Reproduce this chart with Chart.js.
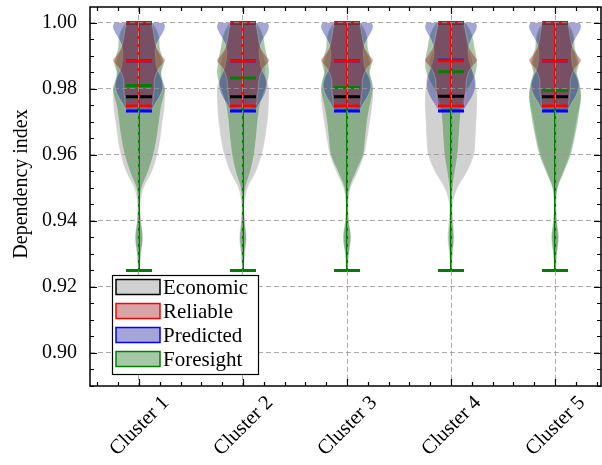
<!DOCTYPE html>
<html>
<head>
<meta charset="utf-8">
<script src="https://cdn.jsdelivr.net/npm/chart.js@4.4.1/dist/chart.umd.min.js"></script>
<style>
  html, body { margin: 0; padding: 0; background: #fff; }
</style>
</head>
<body>
<canvas id="chart" width="602" height="465"></canvas>
<script>
// categories and series
const clusterLabels = ['Cluster 1', 'Cluster 2', 'Cluster 3', 'Cluster 4', 'Cluster 5'];
const clusterPos = [1, 2, 3, 4, 5];
const seriesNames = ['Economic', 'Reliable', 'Predicted', 'Foresight'];

// value levels at which the violin widths were read (relative to the widest point)
const wideLevels = [1.000, 0.9975, 0.995, 0.9925, 0.990, 0.9875, 0.985, 0.9825, 0.980, 0.9775, 0.975,
                    0.9725, 0.970, 0.965, 0.960, 0.955, 0.950, 0.945, 0.940, 0.935, 0.930, 0.925];
const reliableLevels = [1.000, 0.9975, 0.995, 0.9925, 0.990, 0.9885, 0.986, 0.983, 0.980, 0.9775, 0.9748];
const predictedLevels = [1.000, 0.999, 0.9975, 0.996, 0.9935, 0.991, 0.9885, 0.986, 0.9835, 0.981, 0.9785, 0.976, 0.9733];

const economicWidths = [
  [0.40, 0.55, 0.62, 0.66, 0.80, 0.88, 0.84, 0.92, 1.00, 1.00, 0.98, 0.95, 0.90, 0.82, 0.70, 0.50, 0.18, 0.06, 0.08, 0.15, 0.08, 0.02],
  [0.40, 0.55, 0.60, 0.64, 0.78, 0.86, 0.84, 0.93, 1.00, 1.00, 0.99, 0.97, 0.94, 0.85, 0.72, 0.50, 0.18, 0.06, 0.08, 0.14, 0.08, 0.02],
  [0.40, 0.55, 0.62, 0.66, 0.80, 0.88, 0.85, 0.94, 1.00, 1.00, 0.97, 0.93, 0.88, 0.78, 0.66, 0.42, 0.14, 0.05, 0.07, 0.14, 0.07, 0.02],
  [0.40, 0.52, 0.58, 0.63, 0.76, 0.84, 0.82, 0.90, 0.98, 1.00, 1.00, 0.99, 0.97, 0.94, 0.88, 0.62, 0.25, 0.07, 0.09, 0.13, 0.07, 0.02],
  [0.42, 0.58, 0.66, 0.70, 0.78, 0.86, 0.80, 0.88, 0.97, 1.00, 0.95, 0.88, 0.82, 0.70, 0.55, 0.32, 0.09, 0.04, 0.06, 0.12, 0.06, 0.02]
];
const foresightWidths = [
  [0.50, 0.70, 0.78, 0.80, 0.88, 0.95, 0.86, 0.90, 1.00, 0.95, 0.86, 0.81, 0.77, 0.68, 0.55, 0.35, 0.10, 0.04, 0.07, 0.14, 0.07, 0.02],
  [0.50, 0.70, 0.80, 0.85, 0.92, 0.97, 1.00, 0.95, 0.85, 0.74, 0.65, 0.60, 0.56, 0.50, 0.42, 0.28, 0.09, 0.04, 0.06, 0.12, 0.06, 0.02],
  [0.50, 0.70, 0.78, 0.80, 0.88, 0.95, 0.88, 0.95, 1.00, 0.95, 0.88, 0.82, 0.77, 0.70, 0.62, 0.35, 0.10, 0.04, 0.07, 0.15, 0.07, 0.02],
  [0.55, 0.75, 0.85, 0.90, 0.97, 1.00, 0.95, 0.82, 0.65, 0.50, 0.42, 0.37, 0.34, 0.30, 0.25, 0.15, 0.06, 0.03, 0.05, 0.10, 0.05, 0.02],
  [0.48, 0.66, 0.74, 0.76, 0.85, 0.92, 0.84, 0.92, 0.98, 1.00, 0.97, 0.92, 0.87, 0.75, 0.60, 0.35, 0.10, 0.04, 0.07, 0.14, 0.07, 0.02]
];
const reliableWidths = [
  [0.50, 0.55, 0.60, 0.68, 0.88, 1.00, 0.75, 0.60, 0.58, 0.55, 0.45],
  [0.50, 0.55, 0.60, 0.68, 0.88, 1.00, 0.76, 0.62, 0.58, 0.55, 0.45],
  [0.50, 0.55, 0.60, 0.68, 0.88, 1.00, 0.75, 0.60, 0.58, 0.55, 0.45],
  [0.50, 0.56, 0.62, 0.70, 0.90, 1.00, 0.74, 0.60, 0.57, 0.54, 0.45],
  [0.50, 0.55, 0.60, 0.68, 0.88, 1.00, 0.75, 0.60, 0.58, 0.55, 0.45]
];
const predictedWidths = [
  [0.95, 1.00, 0.95, 0.84, 0.68, 0.62, 0.64, 0.70, 0.85, 0.92, 0.84, 0.66, 0.40],
  [0.95, 1.00, 0.95, 0.84, 0.68, 0.62, 0.65, 0.72, 0.86, 0.92, 0.84, 0.66, 0.40],
  [0.95, 1.00, 0.95, 0.84, 0.68, 0.62, 0.64, 0.70, 0.85, 0.92, 0.84, 0.66, 0.40],
  [0.95, 1.00, 0.95, 0.84, 0.70, 0.65, 0.70, 0.80, 0.92, 0.94, 0.86, 0.68, 0.40],
  [0.95, 1.00, 0.95, 0.84, 0.68, 0.62, 0.64, 0.70, 0.85, 0.92, 0.84, 0.66, 0.40]
];

// summary statistics (min, max, mean) per cluster
const economicMin = [0.925, 0.925, 0.925, 0.925, 0.925];
const economicMax = [1.000, 1.000, 1.000, 1.000, 1.000];
const economicMean = [0.9776, 0.9776, 0.9776, 0.9778, 0.9776];
const reliableMin = [0.9748, 0.9748, 0.9748, 0.9748, 0.9748];
const reliableMax = [1.000, 1.000, 1.000, 1.000, 1.000];
const reliableMean = [0.9885, 0.9885, 0.9885, 0.9885, 0.9885];
const predictedMin = [0.9733, 0.9733, 0.9733, 0.9733, 0.9733];
const predictedMax = [1.000, 1.000, 1.000, 1.000, 1.000];
const predictedMean = [0.9885, 0.9885, 0.9885, 0.9887, 0.9885];
const foresightMin = [0.925, 0.925, 0.925, 0.925, 0.925];
const foresightMax = [1.000, 1.000, 1.000, 1.000, 1.000];
const foresightMean = [0.9810, 0.9833, 0.9804, 0.9852, 0.9795];

// axis ticks
const yTickLabels = [0.90, 0.92, 0.94, 0.96, 0.98, 1.00];
const yTitle = 'Dependency index';

const FONT = "'Liberation Serif', 'Times New Roman', serif";
const bodyColors = {
  Economic: 'rgba(128,128,128,0.36)',
  Reliable: 'rgba(155,30,30,0.40)',
  Predicted: 'rgba(30,30,155,0.40)',
  Foresight: 'rgba(30,117,30,0.40)'
};
const lineColors = { Economic: '#000000', Reliable: '#ff0000', Predicted: '#0000ff', Foresight: '#008000' };

const GAP = {x: NaN, y: NaN};

function bodyPoints(levels, rel, pos) {
  const right = levels.map((v, i) => ({x: pos + 0.25 * rel[i], y: v}));
  const left = levels.map((v, i) => ({x: pos - 0.25 * rel[i], y: v})).reverse();
  return right.concat(left);
}

function hLines(mins, maxs, means) {
  const pts = [];
  clusterPos.forEach((p, i) => {
    [mins[i], maxs[i], means[i]].forEach(v => {
      pts.push({x: p - 0.125, y: v}, {x: p + 0.125, y: v}, GAP);
    });
  });
  return pts;
}

function vBars(mins, maxs) {
  const pts = [];
  clusterPos.forEach((p, i) => {
    pts.push({x: p, y: mins[i]}, {x: p, y: maxs[i]}, GAP);
  });
  return pts;
}

const datasets = [];
let drawIndex = 0;

function addBodies(name, levels, widths) {
  widths.forEach((rel, i) => {
    datasets.push({
      label: name,
      data: bodyPoints(levels, rel, clusterPos[i]),
      showLine: true,
      indexAxis: 'y',
      fill: 'shape',
      tension: 0.35,
      pointRadius: 0,
      backgroundColor: bodyColors[name],
      borderColor: 'rgba(255,255,255,0.35)',
      borderWidth: 0.7,
      order: 1000 - (drawIndex++)
    });
  });
}

function addLines(name, mins, maxs, means) {
  datasets.push({
    label: name + ' bars',
    data: vBars(mins, maxs),
    showLine: true,
    spanGaps: false,
    pointRadius: 0,
    borderColor: lineColors[name],
    borderWidth: 2,
    borderCapStyle: 'butt',
    order: 1000 - (drawIndex++)
  });
  datasets.push({
    label: name + ' marks',
    data: hLines(mins, maxs, means),
    showLine: true,
    spanGaps: false,
    pointRadius: 0,
    borderColor: lineColors[name],
    borderWidth: 3,
    borderCapStyle: 'butt',
    order: 1000 - (drawIndex++)
  });
}

// bodies first (bottom), then all statistic lines on top
addBodies('Economic', wideLevels, economicWidths);
addBodies('Foresight', wideLevels, foresightWidths);
addBodies('Predicted', predictedLevels, predictedWidths);
addBodies('Reliable', reliableLevels, reliableWidths);
addLines('Economic', economicMin, economicMax, economicMean);
addLines('Predicted', predictedMin, predictedMax, predictedMean);
addLines('Foresight', foresightMin, foresightMax, foresightMean);
addLines('Reliable', reliableMin, reliableMax, reliableMean);

const isMajorX = v => Math.abs(v - Math.round(v)) < 1e-6;
const isMajorY = v => yTickLabels.some(t => Math.abs(t - v) < 1e-6);

// frame, inward ticks on all sides, y title and the legend box
const framePlugin = {
  id: 'frame',
  afterDraw(chart) {
    const {ctx, chartArea: a, scales: {x, y}} = chart;
    ctx.save();
    ctx.strokeStyle = '#000';
    ctx.lineWidth = 1.2;
    ctx.beginPath();
    x.ticks.forEach(t => {
      const px = Math.round(x.getPixelForValue(t.value)) + 0.5;
      const len = isMajorX(t.value) ? 7 : 4;
      ctx.moveTo(px, a.bottom); ctx.lineTo(px, a.bottom - len);
      ctx.moveTo(px, a.top); ctx.lineTo(px, a.top + len);
    });
    y.ticks.forEach(t => {
      const py = Math.round(y.getPixelForValue(t.value)) + 0.5;
      const len = isMajorY(t.value) ? 7 : 4;
      ctx.moveTo(a.left, py); ctx.lineTo(a.left + len, py);
      ctx.moveTo(a.right, py); ctx.lineTo(a.right - len, py);
    });
    ctx.stroke();
    ctx.lineWidth = 1.5;
    ctx.strokeRect(a.left, a.top, a.right - a.left, a.bottom - a.top);

    // y axis title
    ctx.save();
    ctx.translate(22, 184);
    ctx.rotate(-Math.PI / 2);
    ctx.font = '20px ' + FONT;
    ctx.fillStyle = '#000';
    ctx.textAlign = 'center';
    ctx.textBaseline = 'middle';
    ctx.fillText(yTitle, 0, 0);
    ctx.restore();

    // legend
    const lx = 112, ly = 275, lw = 146, lh = 99;
    ctx.fillStyle = '#fff';
    ctx.fillRect(lx, ly, lw, lh);
    ctx.lineWidth = 1.2;
    ctx.strokeStyle = '#000';
    ctx.strokeRect(lx + 0.5, ly + 0.5, lw, lh);
    ctx.font = '21px ' + FONT;
    ctx.textBaseline = 'middle';
    seriesNames.forEach((name, i) => {
      const cy = ly + 12 + i * 24;
      ctx.fillStyle = bodyColors[name];
      ctx.fillRect(lx + 4, cy - 7.5, 44, 15);
      ctx.strokeStyle = lineColors[name];
      ctx.lineWidth = 1.5;
      ctx.strokeRect(lx + 4, cy - 7.5, 44, 15);
      ctx.fillStyle = '#000';
      ctx.fillText(name, lx + 51, cy + 1);
    });
    ctx.restore();
  }
};

new Chart(document.getElementById('chart'), {
  type: 'scatter',
  data: { datasets },
  options: {
    responsive: false,
    animation: false,
    devicePixelRatio: 1,
    layout: { padding: { top: 7, right: 1, left: 0, bottom: 0 } },
    plugins: {
      legend: { display: false },
      tooltip: { enabled: false }
    },
    scales: {
      x: {
        type: 'linear',
        position: 'bottom',
        min: 0.529,
        max: 5.442,
        afterFit: s => { s.height = 79; s.paddingLeft = 0; s.paddingRight = 0; },
        border: { display: false, dash: [5, 3] },
        grid: {
          z: 1,
          drawTicks: false,
          lineWidth: 1,
          color: c => (c.tick && isMajorX(c.tick.value)) ? 'rgba(150,150,150,0.8)' : 'rgba(0,0,0,0)'
        },
        ticks: {
          stepSize: 0.2,
          autoSkip: false,
          includeBounds: false,
          minRotation: 45,
          maxRotation: 45,
          padding: 5,
          labelOffset: 27,
          color: '#000',
          font: { family: FONT, size: 20.5 },
          callback: v => isMajorX(v) ? clusterLabels[Math.round(v) - 1] : ''
        }
      },
      y: {
        type: 'linear',
        min: 0.89,
        max: 1.0048,
        afterFit: s => { s.width = 90; s.paddingTop = 0; s.paddingBottom = 0; },
        border: { display: false, dash: [5, 3] },
        grid: {
          z: 1,
          drawTicks: false,
          lineWidth: 1,
          color: c => (c.tick && isMajorY(c.tick.value)) ? 'rgba(150,150,150,0.8)' : 'rgba(0,0,0,0)'
        },
        ticks: {
          stepSize: 0.005,
          autoSkip: false,
          includeBounds: false,
          padding: 13,
          color: '#000',
          font: { family: FONT, size: 20 },
          callback: v => isMajorY(v) ? v.toFixed(2) : ''
        },
        title: { display: false }
      }
    }
  },
  plugins: [framePlugin]
});
</script>
</body>
</html>
